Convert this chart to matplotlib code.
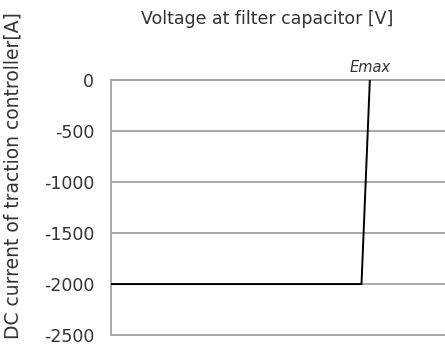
import matplotlib
matplotlib.use("Agg")
import matplotlib.pyplot as plt

# regenerative braking limit: current drops to zero at Emax
voltage = [0, 75, 77.5]
current = [-2000, -2000, 0]
yticks = [0, -500, -1000, -1500, -2000, -2500]
emax = 77.5

fig = plt.figure(figsize=(4.45, 3.44), dpi=100)
ax = fig.add_axes([0.2494, 0.026, 0.7506, 0.741])

ax.plot(voltage, current, color="black", lw=1.4, zorder=3)

ax.set_xlim(0, 100)
ax.set_ylim(-2500, 0)
ax.set_yticks(yticks)
ax.set_yticklabels([str(v) for v in yticks])
ax.set_xticks([])
ax.yaxis.grid(True, color="#a8a8a8", lw=1.4)
ax.tick_params(axis="y", length=0, pad=12, labelsize=12.5, colors="#333333")
for side in ("left", "top", "bottom"):
    ax.spines[side].set_color("#a8a8a8")
    ax.spines[side].set_linewidth(1.4)
ax.spines["right"].set_visible(False)

ax.text(emax, 50, "Emax", ha="center", va="bottom", style="italic",
        fontsize=10.5, color="#333333")

fig.text(0.6, 0.945, "Voltage at filter capacitor [V]", ha="center",
         va="center", fontsize=12.5, color="#333333")
fig.text(0.03, 0.49, "DC current of traction controller[A]", ha="center",
         va="center", rotation=90, fontsize=13.5, color="#333333")

fig.savefig("out.png", dpi=100)
